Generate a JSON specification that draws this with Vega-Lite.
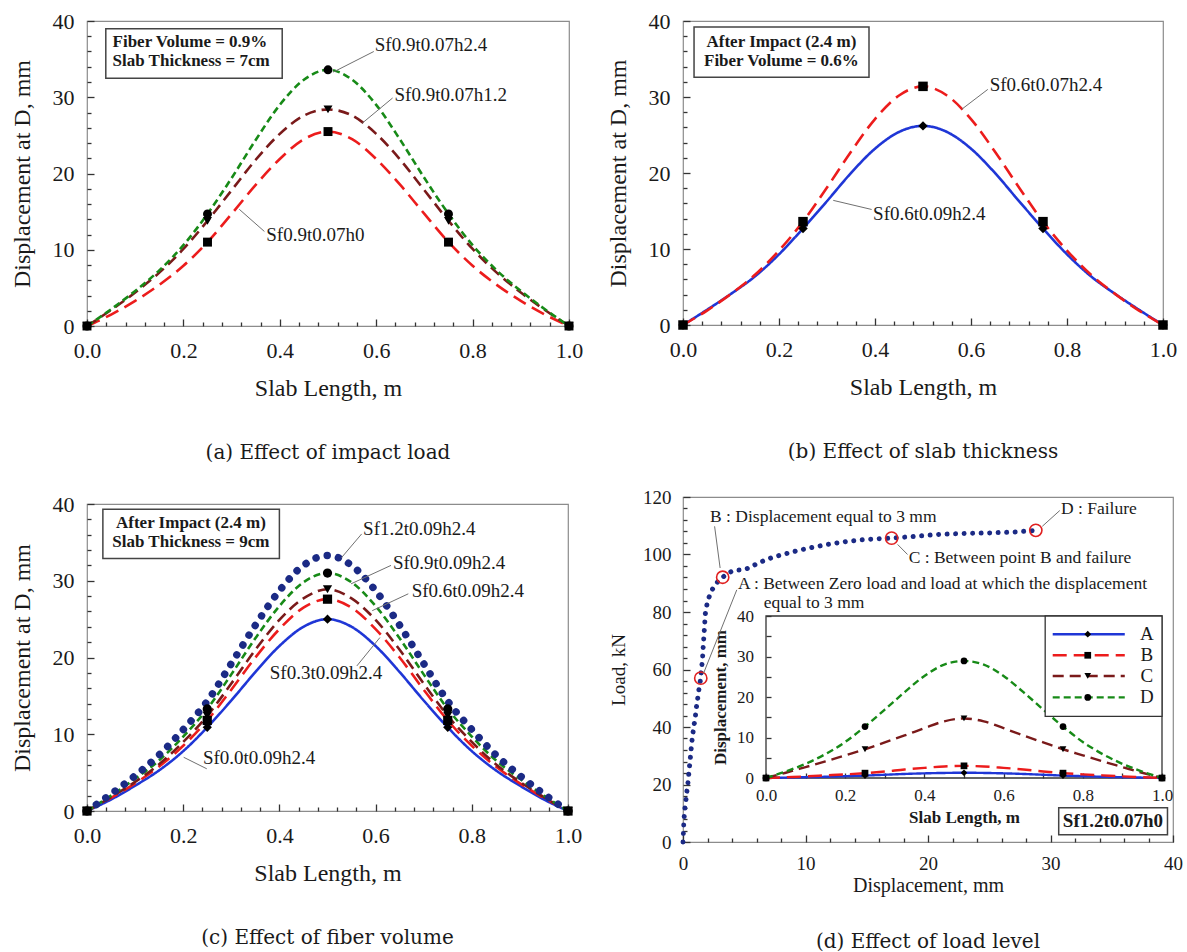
{
"$schema": "https://vega.github.io/schema/vega-lite/v6.json",
"padding": {"left": 9, "top": 9, "right": 0, "bottom": 0},
"config": {
 "view": {"stroke": "#8c8c8c", "strokeWidth": 1.2},
 "axis": {"labelFont": "Liberation Serif", "titleFont": "Liberation Serif", "labelFontSize": 22, "titleFontSize": 24, "titleFontWeight": "normal", "labelColor": "#1a1a1a", "titleColor": "#1a1a1a", "ticks": true, "tickColor": "#333", "tickOpacity": 1, "tickWidth": 1.3, "domain": false, "grid": false, "labelFlush": false, "zindex": 1},
 "title": {"font": "DejaVu Serif", "fontSize": 20, "fontWeight": "normal", "color": "#1a1a1a"},
 "text": {"font": "Liberation Serif", "color": "#1a1a1a"}
},
"datasets": {
 "da": [
  {"x":0,"r":0,"m":0,"g":0},{"x":0.05,"r":1.5,"m":2.1,"g":2.2},{"x":0.1,"r":3.3,"m":4.4,"g":4.6},{"x":0.15,"r":5.4,"m":7.0,"g":7.3},{"x":0.2,"r":7.9,"m":10.1,"g":10.6},{"x":0.25,"r":11.0,"m":13.8,"g":14.7},{"x":0.3,"r":14.7,"m":17.8,"g":19.4},{"x":0.35,"r":18.5,"m":21.8,"g":24.4},{"x":0.4,"r":21.9,"m":25.2,"g":29.0},{"x":0.45,"r":24.5,"m":27.6,"g":32.3},{"x":0.5,"r":25.5,"m":28.4,"g":33.6},
  {"x":0.55,"r":24.5,"m":27.6,"g":32.3},{"x":0.6,"r":21.9,"m":25.2,"g":29.0},{"x":0.65,"r":18.5,"m":21.8,"g":24.4},{"x":0.7,"r":14.7,"m":17.8,"g":19.4},{"x":0.75,"r":11.0,"m":13.8,"g":14.7},{"x":0.8,"r":7.9,"m":10.1,"g":10.6},{"x":0.85,"r":5.4,"m":7.0,"g":7.3},{"x":0.9,"r":3.3,"m":4.4,"g":4.6},{"x":0.95,"r":1.5,"m":2.1,"g":2.2},{"x":1,"r":0,"m":0,"g":0}
 ],
 "db": [
  {"x":0,"r":0,"b":0},{"x":0.05,"r":1.9,"b":2.0},{"x":0.1,"r":4.1,"b":4.1},{"x":0.15,"r":6.6,"b":6.4},{"x":0.2,"r":9.8,"b":9.3},{"x":0.25,"r":13.6,"b":12.7},{"x":0.3,"r":18.1,"b":16.3},{"x":0.35,"r":22.8,"b":20.0},{"x":0.4,"r":27.1,"b":23.2},{"x":0.45,"r":30.2,"b":25.4},{"x":0.5,"r":31.4,"b":26.2},
  {"x":0.55,"r":30.2,"b":25.4},{"x":0.6,"r":27.1,"b":23.2},{"x":0.65,"r":22.8,"b":20.0},{"x":0.7,"r":18.1,"b":16.3},{"x":0.75,"r":13.6,"b":12.7},{"x":0.8,"r":9.8,"b":9.3},{"x":0.85,"r":6.6,"b":6.4},{"x":0.9,"r":4.1,"b":4.1},{"x":0.95,"r":1.9,"b":2.0},{"x":1,"r":0,"b":0}
 ],
 "dc": [
  {"x":0,"b":0,"r":0,"m":0,"g":0,"n":0},{"x":0.05,"b":1.5,"r":1.7,"m":1.8,"g":2.0,"n":2.2},{"x":0.1,"b":3.3,"r":3.6,"m":3.8,"g":4.2,"n":4.6},{"x":0.15,"b":5.3,"r":5.8,"m":6.1,"g":6.6,"n":7.3},{"x":0.2,"b":7.8,"r":8.5,"m":9.0,"g":9.7,"n":10.6},{"x":0.25,"b":10.9,"r":11.8,"m":12.4,"g":13.3,"n":14.3},{"x":0.3,"b":14.4,"r":15.8,"m":16.6,"g":17.8,"n":19.2},{"x":0.35,"b":18.1,"r":20.0,"m":21.0,"g":22.5,"n":24.2},{"x":0.4,"b":21.5,"r":23.7,"m":24.9,"g":26.7,"n":28.7},{"x":0.45,"b":24.0,"r":26.5,"m":27.7,"g":29.8,"n":32.0},{"x":0.5,"b":25.0,"r":27.6,"m":28.9,"g":31.0,"n":33.3},
  {"x":0.55,"b":24.0,"r":26.5,"m":27.7,"g":29.8,"n":32.0},{"x":0.6,"b":21.5,"r":23.7,"m":24.9,"g":26.7,"n":28.7},{"x":0.65,"b":18.1,"r":20.0,"m":21.0,"g":22.5,"n":24.2},{"x":0.7,"b":14.4,"r":15.8,"m":16.6,"g":17.8,"n":19.2},{"x":0.75,"b":10.9,"r":11.8,"m":12.4,"g":13.3,"n":14.3},{"x":0.8,"b":7.8,"r":8.5,"m":9.0,"g":9.7,"n":10.6},{"x":0.85,"b":5.3,"r":5.8,"m":6.1,"g":6.6,"n":7.3},{"x":0.9,"b":3.3,"r":3.6,"m":3.8,"g":4.2,"n":4.6},{"x":0.95,"b":1.5,"r":1.7,"m":1.8,"g":2.0,"n":2.2},{"x":1,"b":0,"r":0,"m":0,"g":0,"n":0}
 ],
 "di": [
  {"x":0,"A":0,"B":0,"C":0,"D":0},{"x":0.05,"A":0.1,"B":0.2,"C":1.3,"D":1.6},{"x":0.1,"A":0.2,"B":0.4,"C":2.7,"D":3.5},{"x":0.15,"A":0.3,"B":0.65,"C":4.1,"D":5.9},{"x":0.2,"A":0.45,"B":0.9,"C":5.6,"D":8.9},{"x":0.25,"A":0.6,"B":1.2,"C":7.1,"D":12.7},{"x":0.3,"A":0.8,"B":1.6,"C":8.8,"D":16.9},{"x":0.35,"A":1.0,"B":2.1,"C":10.5,"D":21.2},{"x":0.4,"A":1.15,"B":2.5,"C":12.3,"D":25.2},{"x":0.45,"A":1.25,"B":2.85,"C":14.0,"D":28.0},{"x":0.5,"A":1.3,"B":3.0,"C":14.7,"D":28.9},
  {"x":0.55,"A":1.25,"B":2.85,"C":14.0,"D":28.0},{"x":0.6,"A":1.15,"B":2.5,"C":12.3,"D":25.2},{"x":0.65,"A":1.0,"B":2.1,"C":10.5,"D":21.2},{"x":0.7,"A":0.8,"B":1.6,"C":8.8,"D":16.9},{"x":0.75,"A":0.6,"B":1.2,"C":7.1,"D":12.7},{"x":0.8,"A":0.45,"B":0.9,"C":5.6,"D":8.9},{"x":0.85,"A":0.3,"B":0.65,"C":4.1,"D":5.9},{"x":0.9,"A":0.2,"B":0.4,"C":2.7,"D":3.5},{"x":0.95,"A":0.1,"B":0.2,"C":1.3,"D":1.6},{"x":1,"A":0,"B":0,"C":0,"D":0}
 ],
 "dd": [
  {"d":0,"l":0},{"d":0.03,"l":3},{"d":0.06,"l":6},{"d":0.1,"l":9},{"d":0.16,"l":12},{"d":0.24,"l":14.5},{"d":0.3,"l":17},{"d":0.4,"l":20.5},{"d":0.5,"l":25},{"d":0.6,"l":29.3},{"d":0.68,"l":33},{"d":0.76,"l":36.3},{"d":0.88,"l":40},{"d":1.0,"l":43.3},{"d":1.1,"l":47},{"d":1.21,"l":50.2},{"d":1.33,"l":54},{"d":1.45,"l":57},{"d":1.53,"l":61},{"d":1.6,"l":64.2},{"d":1.65,"l":68},{"d":1.7,"l":71.2},{"d":1.76,"l":75},{"d":1.82,"l":79.3},{"d":1.95,"l":82.5},{"d":2.12,"l":85.1},{"d":2.35,"l":87.5},{"d":2.58,"l":89.2},{"d":2.9,"l":90.8},{"d":3.24,"l":92.1},{"d":3.65,"l":93.4},{"d":4.1,"l":94.4},{"d":4.55,"l":94.6},{"d":5.0,"l":94.7},{"d":5.4,"l":95.4},{"d":5.76,"l":96.2},{"d":6.35,"l":97.4},{"d":6.97,"l":98.5},{"d":7.8,"l":99.6},{"d":8.6,"l":100.5},{"d":9.4,"l":101.4},{"d":10.6,"l":102.5},{"d":11.8,"l":103.5},{"d":13.3,"l":104.5},{"d":14.85,"l":105.2},{"d":16,"l":105.5},{"d":17.03,"l":105.7},{"d":18.9,"l":106.3},{"d":20.9,"l":107},{"d":22.9,"l":107.3},{"d":24.9,"l":107.5},{"d":26.97,"l":107.8},{"d":28.8,"l":108.4}
 ]
},
"resolve": {"scale": {"color": "independent", "strokeDash": "independent", "shape": "independent"}},
"spacing": 21,
"hconcat": [
 {
  "spacing": 178,
  "bounds": "flush",
  "resolve": {"scale": {"color": "independent", "strokeDash": "independent", "shape": "independent"}},
  "vconcat": [
   {
    "width": 482, "height": 305,
    "title": {"text": "(a) Effect of impact load", "orient": "bottom", "offset": 43},
    "resolve": {"axis": {"x": "independent", "y": "independent"}},
    "layer": [
     {"data": {"name": "da"}, "transform": [{"fold": ["r","m","g"], "as": ["s","v"]}],
      "mark": {"type": "line", "strokeWidth": 2.6, "interpolate": "monotone"},
      "encoding": {
       "x": {"field": "x", "type": "quantitative", "scale": {"domain": [0,1], "nice": false},
        "axis": {"orient": "bottom", "offset": -7, "values": [0,0.2,0.4,0.6,0.8,1], "format": ".1f", "ticks": true, "tickSize": 7, "labelPadding": 14, "title": "Slab Length, m", "titlePadding": 15}},
       "y": {"field": "v", "type": "quantitative", "scale": {"domain": [0,40], "nice": false},
        "axis": {"orient": "left", "offset": -7, "values": [0,10,20,30,40], "ticks": true, "tickSize": 7, "labelPadding": 13, "title": "Displacement at D, mm", "titlePadding": 18}},
       "color": {"field": "s", "type": "nominal", "scale": {"domain": ["r","m","g"], "range": ["#ec1c1c","#7a1a1a","#178a17"]}, "legend": null},
       "strokeDash": {"field": "s", "type": "nominal", "scale": {"domain": ["r","m","g"], "range": [[14,7],[11,6],[7,4]]}, "legend": null}
      }},
     {"data": {"name": "da"}, "transform": [{"fold": ["r","m","g"], "as": ["s","v"]}, {"filter": "indexof([0,0.25,0.5,0.75,1], datum.x) >= 0"}],
      "mark": {"type": "point", "filled": true, "color": "#000", "opacity": 1, "size": 80},
      "encoding": {
       "x": {"field": "x", "type": "quantitative", "axis": {"orient": "bottom", "offset": -4, "values": [0.04,0.08,0.12,0.16,0.24,0.28,0.32,0.36,0.44,0.48,0.52,0.56,0.64,0.68,0.72,0.76,0.84,0.88,0.92,0.96], "labels": false, "ticks": true, "tickSize": 4, "title": null}},
       "y": {"field": "v", "type": "quantitative", "axis": {"orient": "left", "offset": -4, "values": [2,4,6,8,12,14,16,18,22,24,26,28,32,34,36,38], "labels": false, "ticks": true, "tickSize": 4, "title": null}},
       "shape": {"field": "s", "type": "nominal", "scale": {"domain": ["r","m","g"], "range": ["square","triangle-down","circle"]}, "legend": null}
      }},
     {"data": {"values": [{"x":0.039,"x2":0.405,"y":39.0,"y2":32.5}]},
      "mark": {"type": "rect", "fill": "#fff", "stroke": "#444", "strokeWidth": 1.5},
      "encoding": {"x": {"field": "x", "type": "quantitative", "axis": null}, "x2": {"field": "x2"}, "y": {"field": "y", "type": "quantitative", "axis": null}, "y2": {"field": "y2"}}},
     {"data": {"values": [{"x":0.053,"y":37.2,"t":"Fiber Volume = 0.9%"},{"x":0.053,"y":34.75,"t":"Slab Thickness = 7cm"}]},
      "mark": {"type": "text", "align": "left", "baseline": "middle", "fontSize": 17, "fontWeight": "bold"},
      "encoding": {"x": {"field": "x", "type": "quantitative", "axis": null}, "y": {"field": "y", "type": "quantitative", "axis": null}, "text": {"field": "t"}}},
     {"data": {"values": [{"x":0.595,"y":36.0,"x2":0.511,"y2":33.3},{"x":0.634,"y":29.9,"x2":0.571,"y2":26.6},{"x":0.368,"y":12.4,"x2":0.316,"y2":15.3}]},
      "mark": {"type": "rule", "color": "#707070", "strokeWidth": 1},
      "encoding": {"x": {"field": "x", "type": "quantitative", "axis": null}, "x2": {"field": "x2"}, "y": {"field": "y", "type": "quantitative", "axis": null}, "y2": {"field": "y2"}}},
     {"data": {"values": [{"x":0.597,"y":36.9,"t":"Sf0.9t0.07h2.4"},{"x":0.638,"y":30.3,"t":"Sf0.9t0.07h1.2"},{"x":0.372,"y":12.0,"t":"Sf0.9t0.07h0"}]},
      "mark": {"type": "text", "align": "left", "baseline": "middle", "fontSize": 19},
      "encoding": {"x": {"field": "x", "type": "quantitative", "axis": null}, "y": {"field": "y", "type": "quantitative", "axis": null}, "text": {"field": "t"}}}
    ]
   },
   {
    "width": 481, "height": 307,
    "title": {"text": "(c) Effect of fiber volume", "orient": "bottom", "offset": 43},
    "resolve": {"axis": {"x": "independent", "y": "independent"}},
    "layer": [
     {"data": {"name": "dc"}, "transform": [{"fold": ["b","r","m","g"], "as": ["s","v"]}],
      "mark": {"type": "line", "strokeWidth": 2.6, "interpolate": "monotone"},
      "encoding": {
       "x": {"field": "x", "type": "quantitative", "scale": {"domain": [0,1], "nice": false},
        "axis": {"orient": "bottom", "offset": -7, "values": [0,0.2,0.4,0.6,0.8,1], "format": ".1f", "ticks": true, "tickSize": 7, "labelPadding": 14, "title": "Slab Length, m", "titlePadding": 15}},
       "y": {"field": "v", "type": "quantitative", "scale": {"domain": [0,40], "nice": false},
        "axis": {"orient": "left", "offset": -7, "values": [0,10,20,30,40], "ticks": true, "tickSize": 7, "labelPadding": 13, "title": "Displacement at D, mm", "titlePadding": 18}},
       "color": {"field": "s", "type": "nominal", "scale": {"domain": ["b","r","m","g"], "range": ["#1f36d6","#ec1c1c","#7a1a1a","#178a17"]}, "legend": null},
       "strokeDash": {"field": "s", "type": "nominal", "scale": {"domain": ["b","r","m","g"], "range": [[1,0],[14,7],[11,6],[7,4]]}, "legend": null}
      }},
     {"data": {"name": "dc"},
      "mark": {"type": "line", "color": "#1b2a85", "strokeWidth": 7.5, "strokeDash": [0.01, 11.5], "strokeCap": "round", "interpolate": "monotone"},
      "encoding": {"x": {"field": "x", "type": "quantitative", "axis": null}, "y": {"field": "n", "type": "quantitative", "axis": null}}},
     {"data": {"name": "dc"}, "transform": [{"fold": ["b","r","m","g"], "as": ["s","v"]}, {"filter": "indexof([0,0.25,0.5,0.75,1], datum.x) >= 0"}],
      "mark": {"type": "point", "filled": true, "color": "#000", "opacity": 1, "size": 85},
      "encoding": {
       "x": {"field": "x", "type": "quantitative", "axis": {"orient": "bottom", "offset": -4, "values": [0.04,0.08,0.12,0.16,0.24,0.28,0.32,0.36,0.44,0.48,0.52,0.56,0.64,0.68,0.72,0.76,0.84,0.88,0.92,0.96], "labels": false, "ticks": true, "tickSize": 4, "title": null}},
       "y": {"field": "v", "type": "quantitative", "axis": {"orient": "left", "offset": -4, "values": [2,4,6,8,12,14,16,18,22,24,26,28,32,34,36,38], "labels": false, "ticks": true, "tickSize": 4, "title": null}},
       "shape": {"field": "s", "type": "nominal", "scale": {"domain": ["b","r","m","g"], "range": ["diamond","square","triangle-down","circle"]}, "legend": null}
      }},
     {"data": {"values": [{"x":0.033,"x2":0.40,"y":39.3,"y2":32.9}]},
      "mark": {"type": "rect", "fill": "#fff", "stroke": "#444", "strokeWidth": 1.5},
      "encoding": {"x": {"field": "x", "type": "quantitative", "axis": null}, "x2": {"field": "x2"}, "y": {"field": "y", "type": "quantitative", "axis": null}, "y2": {"field": "y2"}}},
     {"data": {"values": [{"x":0.216,"y":37.5,"t":"After Impact (2.4 m)"},{"x":0.216,"y":35.1,"t":"Slab Thickness = 9cm"}]},
      "mark": {"type": "text", "align": "center", "baseline": "middle", "fontSize": 17, "fontWeight": "bold"},
      "encoding": {"x": {"field": "x", "type": "quantitative", "axis": null}, "y": {"field": "y", "type": "quantitative", "axis": null}, "text": {"field": "t"}}},
     {"data": {"values": [{"x":0.571,"y":36.1,"x2":0.529,"y2":33.0},{"x":0.632,"y":32.0,"x2":0.549,"y2":29.6},{"x":0.668,"y":28.3,"x2":0.593,"y2":26.1},{"x":0.561,"y":18.9,"x2":0.609,"y2":22.6},{"x":0.249,"y":5.5,"x2":0.201,"y2":7.0}]},
      "mark": {"type": "rule", "color": "#707070", "strokeWidth": 1},
      "encoding": {"x": {"field": "x", "type": "quantitative", "axis": null}, "x2": {"field": "x2"}, "y": {"field": "y", "type": "quantitative", "axis": null}, "y2": {"field": "y2"}}},
     {"data": {"values": [{"x":0.574,"y":36.7,"t":"Sf1.2t0.09h2.4"},{"x":0.636,"y":32.3,"t":"Sf0.9t0.09h2.4"},{"x":0.675,"y":28.6,"t":"Sf0.6t0.09h2.4"},{"x":0.380,"y":18.0,"t":"Sf0.3t0.09h2.4"},{"x":0.241,"y":6.9,"t":"Sf0.0t0.09h2.4"}]},
      "mark": {"type": "text", "align": "left", "baseline": "middle", "fontSize": 19},
      "encoding": {"x": {"field": "x", "type": "quantitative", "axis": null}, "y": {"field": "y", "type": "quantitative", "axis": null}, "text": {"field": "t"}}}
    ]
   }
  ]
 },
 {
  "spacing": 172,
  "bounds": "flush",
  "resolve": {"scale": {"color": "independent", "strokeDash": "independent", "shape": "independent"}},
  "vconcat": [
   {
    "width": 480, "height": 304,
    "title": {"text": "(b) Effect of slab thickness", "orient": "bottom", "offset": 43},
    "resolve": {"axis": {"x": "independent", "y": "independent"}},
    "layer": [
     {"data": {"name": "db"}, "transform": [{"fold": ["b","r"], "as": ["s","v"]}],
      "mark": {"type": "line", "strokeWidth": 2.6, "interpolate": "monotone"},
      "encoding": {
       "x": {"field": "x", "type": "quantitative", "scale": {"domain": [0,1], "nice": false},
        "axis": {"orient": "bottom", "offset": -7, "values": [0,0.2,0.4,0.6,0.8,1], "format": ".1f", "ticks": true, "tickSize": 7, "labelPadding": 14, "title": "Slab Length, m", "titlePadding": 15}},
       "y": {"field": "v", "type": "quantitative", "scale": {"domain": [0,40], "nice": false},
        "axis": {"orient": "left", "offset": -7, "values": [0,10,20,30,40], "ticks": true, "tickSize": 7, "labelPadding": 13, "title": "Displacement at D, mm", "titlePadding": 18}},
       "color": {"field": "s", "type": "nominal", "scale": {"domain": ["b","r"], "range": ["#1f36d6","#ec1c1c"]}, "legend": null},
       "strokeDash": {"field": "s", "type": "nominal", "scale": {"domain": ["b","r"], "range": [[1,0],[14,7]]}, "legend": null}
      }},
     {"data": {"name": "db"}, "transform": [{"fold": ["b","r"], "as": ["s","v"]}, {"filter": "indexof([0,0.25,0.5,0.75,1], datum.x) >= 0"}],
      "mark": {"type": "point", "filled": true, "color": "#000", "opacity": 1, "size": 90},
      "encoding": {
       "x": {"field": "x", "type": "quantitative", "axis": {"orient": "bottom", "offset": -4, "values": [0.04,0.08,0.12,0.16,0.24,0.28,0.32,0.36,0.44,0.48,0.52,0.56,0.64,0.68,0.72,0.76,0.84,0.88,0.92,0.96], "labels": false, "ticks": true, "tickSize": 4, "title": null}},
       "y": {"field": "v", "type": "quantitative", "axis": {"orient": "left", "offset": -4, "values": [2,4,6,8,12,14,16,18,22,24,26,28,32,34,36,38], "labels": false, "ticks": true, "tickSize": 4, "title": null}},
       "shape": {"field": "s", "type": "nominal", "scale": {"domain": ["b","r"], "range": ["diamond","square"]}, "legend": null}
      }},
     {"data": {"values": [{"x":0.023,"x2":0.3875,"y":39.2,"y2":32.6}]},
      "mark": {"type": "rect", "fill": "#fff", "stroke": "#444", "strokeWidth": 1.5},
      "encoding": {"x": {"field": "x", "type": "quantitative", "axis": null}, "x2": {"field": "x2"}, "y": {"field": "y", "type": "quantitative", "axis": null}, "y2": {"field": "y2"}}},
     {"data": {"values": [{"x":0.205,"y":37.2,"t":"After Impact (2.4 m)"},{"x":0.205,"y":34.7,"t":"Fiber Volume = 0.6%"}]},
      "mark": {"type": "text", "align": "center", "baseline": "middle", "fontSize": 17, "fontWeight": "bold"},
      "encoding": {"x": {"field": "x", "type": "quantitative", "axis": null}, "y": {"field": "y", "type": "quantitative", "axis": null}, "text": {"field": "t"}}},
     {"data": {"values": [{"x":0.635,"y":31.0,"x2":0.581,"y2":28.4},{"x":0.393,"y":15.2,"x2":0.313,"y2":16.4}]},
      "mark": {"type": "rule", "color": "#707070", "strokeWidth": 1},
      "encoding": {"x": {"field": "x", "type": "quantitative", "axis": null}, "x2": {"field": "x2"}, "y": {"field": "y", "type": "quantitative", "axis": null}, "y2": {"field": "y2"}}},
     {"data": {"values": [{"x":0.639,"y":31.6,"t":"Sf0.6t0.07h2.4"},{"x":0.396,"y":14.6,"t":"Sf0.6t0.09h2.4"}]},
      "mark": {"type": "text", "align": "left", "baseline": "middle", "fontSize": 19},
      "encoding": {"x": {"field": "x", "type": "quantitative", "axis": null}, "y": {"field": "y", "type": "quantitative", "axis": null}, "text": {"field": "t"}}}
    ]
   },
   {
    "width": 490, "height": 345,
    "title": {"text": "(d) Effect of load level", "orient": "bottom", "offset": 37},
    "resolve": {"scale": {"x": "independent", "y": "independent"}, "axis": {"x": "independent", "y": "independent"}},
    "layer": [
     {"resolve": {"axis": {"x": "independent", "y": "independent"}},
      "layer": [
      {"data": {"name": "dd"},
       "mark": {"type": "line", "color": "#1b2a85", "strokeWidth": 5, "strokeDash": [0.01, 8.5], "strokeCap": "round"},
       "encoding": {
        "x": {"field": "d", "type": "quantitative", "scale": {"domain": [0,40], "nice": false},
         "axis": {"orient": "bottom", "offset": -7, "values": [0,10,20,30,40], "ticks": true, "tickSize": 7, "labelPadding": 12, "labelFontSize": 19, "title": "Displacement, mm", "titleFontSize": 20, "titlePadding": 2}},
        "y": {"field": "l", "type": "quantitative", "scale": {"domain": [0,120], "nice": false},
         "axis": {"orient": "left", "offset": -7, "values": [0,20,40,60,80,100,120], "ticks": true, "tickSize": 7, "labelPadding": 12, "labelFontSize": 19, "title": "Load, kN", "titleFontSize": 19, "titlePadding": 14}}
       }},
      {"data": {"values": [{"x":1.45,"y":57},{"x":3.24,"y":92.1},{"x":17.03,"y":105.7},{"x":28.8,"y":108.4}]},
       "mark": {"type": "point", "shape": "circle", "filled": false, "stroke": "#e02020", "strokeWidth": 1.6, "size": 150, "opacity": 1},
       "encoding": {
        "x": {"field": "x", "type": "quantitative", "axis": {"orient": "bottom", "offset": -4, "values": [2,4,6,8,12,14,16,18,22,24,26,28,32,34,36,38], "labels": false, "ticks": true, "tickSize": 4, "title": null}},
        "y": {"field": "y", "type": "quantitative", "axis": {"orient": "left", "offset": -4, "values": [4,8,12,16,24,28,32,36,44,48,52,56,64,68,72,76,84,88,92,96,104,108,112,116], "labels": false, "ticks": true, "tickSize": 4, "title": null}}}},
      {"data": {"values": [{"x":2.58,"y":109.8,"x2":3.03,"y2":95.3},{"x":30.76,"y":115.3,"x2":29.33,"y2":109.8},{"x":18.33,"y":100.0,"x2":17.52,"y2":103.5},{"x":4.39,"y":87.7,"x2":1.67,"y2":58.6}]},
       "mark": {"type": "rule", "color": "#707070", "strokeWidth": 1},
       "encoding": {"x": {"field": "x", "type": "quantitative", "axis": null}, "x2": {"field": "x2"}, "y": {"field": "y", "type": "quantitative", "axis": null}, "y2": {"field": "y2"}}},
      {"data": {"values": [{"x":2.21,"y":113.0,"t":"B : Displacement equal to 3 mm"},{"x":30.85,"y":115.9,"t":"D : Failure"},{"x":18.42,"y":98.8,"t":"C : Between point B and failure"},{"x":4.48,"y":89.8,"t":"A : Between Zero load and load at which the displacement"},{"x":6.6,"y":83.0,"t":"equal to 3 mm"}]},
       "mark": {"type": "text", "align": "left", "baseline": "middle", "fontSize": 17.5},
       "encoding": {"x": {"field": "x", "type": "quantitative", "axis": null}, "y": {"field": "y", "type": "quantitative", "axis": null}, "text": {"field": "t"}}},
      {"data": {"values": [{"x":30.67,"x2":39.55,"y":2.5,"y2":11.9}]},
       "mark": {"type": "rect", "fill": "#fff", "stroke": "#444", "strokeWidth": 1.5},
       "encoding": {"x": {"field": "x", "type": "quantitative", "axis": null}, "x2": {"field": "x2"}, "y": {"field": "y", "type": "quantitative", "axis": null}, "y2": {"field": "y2"}}},
      {"data": {"values": [{"x":35.1,"y":7.3,"t":"Sf1.2t0.07h0"}]},
       "mark": {"type": "text", "align": "center", "baseline": "middle", "fontSize": 19, "fontWeight": "bold"},
       "encoding": {"x": {"field": "x", "type": "quantitative", "axis": null}, "y": {"field": "y", "type": "quantitative", "axis": null}, "text": {"field": "t"}}}
     ]},
     {"layer": [
      {"data": {"values": [{"x":0,"x2":1,"y":0,"y2":40}]},
       "mark": {"type": "rect", "fill": "transparent", "stroke": "#333", "strokeWidth": 1.3},
       "encoding": {"x": {"field": "x", "type": "quantitative", "scale": {"domain": [0,1], "range": [83,479], "nice": false}}, "x2": {"field": "x2"}, "y": {"field": "y", "type": "quantitative", "scale": {"domain": [0,40], "range": [281,119], "nice": false}}, "y2": {"field": "y2"}}},
      {"data": {"name": "di"}, "transform": [{"fold": ["A","B","C","D"], "as": ["s","v"]}],
       "mark": {"type": "line", "strokeWidth": 2.4, "interpolate": "monotone"},
       "encoding": {
        "x": {"field": "x", "type": "quantitative", "scale": {"domain": [0,1], "range": [83,479], "nice": false},
         "axis": {"orient": "bottom", "offset": -69, "values": [0,0.1,0.2,0.3,0.4,0.5,0.6,0.7,0.8,0.9,1], "labelExpr": "indexof([0,0.2,0.4,0.6,0.8,1], datum.value) >= 0 ? format(datum.value, '.1f') : ''", "ticks": true, "tickSize": 5, "labelPadding": 9, "labelFontSize": 17, "title": "Slab Length, m", "titleFontSize": 17, "titleFontWeight": "bold", "titlePadding": 6}},
        "y": {"field": "v", "type": "quantitative", "scale": {"domain": [0,40], "range": [281,119], "nice": false},
         "axis": {"orient": "left", "offset": -88, "values": [0,5,10,15,20,25,30,35,40], "labelExpr": "datum.value % 10 === 0 ? '' + datum.value : ''", "ticks": true, "tickSize": 5, "labelPadding": 12.5, "labelFontSize": 17, "title": "Displacement, mm", "titleFontSize": 17, "titleFontWeight": "bold", "titlePadding": 7}},
        "color": {"field": "s", "type": "nominal", "scale": {"domain": ["A","B","C","D"], "range": ["#1f36d6","#ec1c1c","#7a1a1a","#178a17"]}, "legend": null},
        "strokeDash": {"field": "s", "type": "nominal", "scale": {"domain": ["A","B","C","D"], "range": [[1,0],[14,7],[11,6],[7,4]]}, "legend": null}
       }},
      {"data": {"name": "di"}, "transform": [{"fold": ["A","B","C","D"], "as": ["s","v"]}, {"filter": "indexof([0,0.25,0.5,0.75,1], datum.x) >= 0"}],
       "mark": {"type": "point", "filled": true, "color": "#000", "opacity": 1, "size": 45},
       "encoding": {
        "x": {"field": "x", "type": "quantitative"},
        "y": {"field": "v", "type": "quantitative"},
        "shape": {"field": "s", "type": "nominal", "scale": {"domain": ["A","B","C","D"], "range": ["diamond","square","triangle-down","circle"]}, "legend": null}
       }},
      {"data": {"values": [{"x":0.705,"x2":1,"y":15.2,"y2":40}]},
       "mark": {"type": "rect", "fill": "#fff", "stroke": "#333", "strokeWidth": 1.3},
       "encoding": {"x": {"field": "x", "type": "quantitative"}, "x2": {"field": "x2"}, "y": {"field": "y", "type": "quantitative"}, "y2": {"field": "y2"}}},
      {"data": {"values": [{"s":"A","y":35.5},{"s":"B","y":30.3},{"s":"C","y":25.2},{"s":"D","y":19.9}]},
       "mark": {"type": "rule", "strokeWidth": 2.4},
       "encoding": {"x": {"datum": 0.724, "type": "quantitative"}, "x2": {"datum": 0.906}, "y": {"field": "y", "type": "quantitative"},
        "color": {"field": "s", "type": "nominal", "legend": null},
        "strokeDash": {"field": "s", "type": "nominal", "legend": null}}},
      {"data": {"values": [{"s":"A","y":35.5},{"s":"B","y":30.3},{"s":"C","y":25.2},{"s":"D","y":19.9}]},
       "mark": {"type": "point", "filled": true, "color": "#000", "opacity": 1, "size": 45},
       "encoding": {"x": {"datum": 0.8125, "type": "quantitative"}, "y": {"field": "y", "type": "quantitative"},
        "shape": {"field": "s", "type": "nominal", "legend": null}}},
      {"data": {"values": [{"s":"A","y":35.5},{"s":"B","y":30.3},{"s":"C","y":25.2},{"s":"D","y":19.9}]},
       "mark": {"type": "text", "align": "center", "baseline": "middle", "fontSize": 19},
       "encoding": {"x": {"datum": 0.962, "type": "quantitative"}, "y": {"field": "y", "type": "quantitative"}, "text": {"field": "s"}}}
     ]}
    ]
   }
  ]
 }
]
}
